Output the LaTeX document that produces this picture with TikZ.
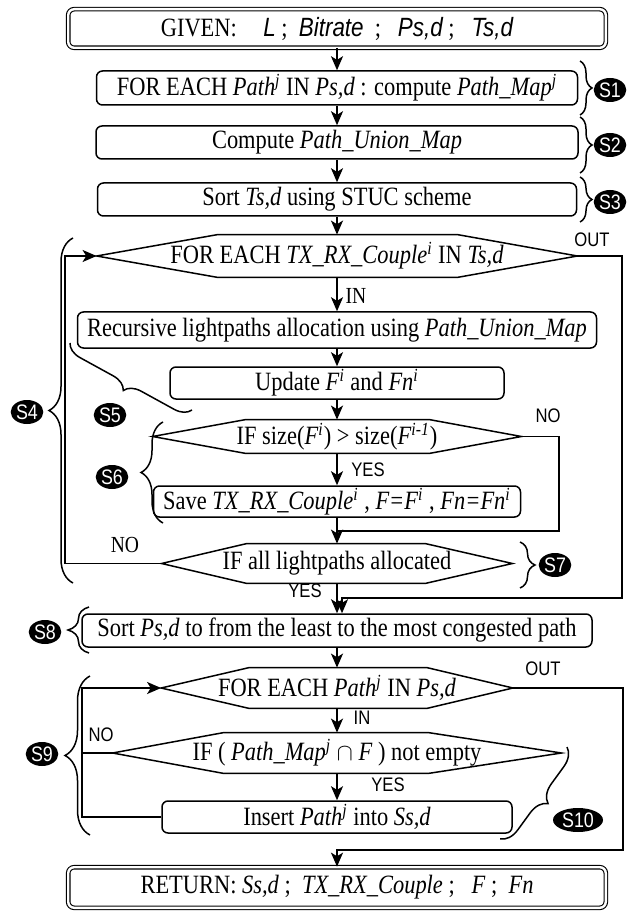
\documentclass[tikz,border=0pt]{standalone}
\usepackage{fontspec}
\setmainfont{Liberation Serif}[FakeStretch=0.85]
\setsansfont{Liberation Sans}[FakeStretch=0.85]
\usetikzlibrary{arrows.meta,shapes.geometric,decorations.pathreplacing}
\newcommand{\boxfont}{\fontsize{13.2}{15}\selectfont}
\newcommand{\vr}[1]{\textit{#1}}
\newcommand{\idx}[1]{\textsuperscript{\textit{#1}}}
% outline of a hexagon around a plain node: name, left and right chamfer
\newcommand{\hexout}[3]{\draw[hexline] (#1.west) -- ([xshift=#2]#1.north west) -- ([xshift=-#3]#1.north east) -- (#1.east) -- ([xshift=-#3]#1.south east) -- ([xshift=#2]#1.south west) -- cycle;}
\tikzset{
  flowbox/.style={draw,rounded corners=3pt,line width=0.75pt,inner sep=0pt,font=\boxfont},
  termbox/.style={flowbox,double,double distance=1.2pt,line width=0.55pt},
  hexnode/.style={inner sep=0pt,font=\boxfont},
  hexline/.style={line width=0.75pt},
  flow/.style={line width=0.9pt,-{Stealth[length=7pt,width=6pt,inset=1.8pt]}},
  link/.style={line width=0.9pt},
  bracer/.style={decorate,decoration={brace,amplitude=#1},line width=0.75pt},
  steplabel/.style={ellipse,fill=black,text=white,inner sep=0.3pt,minimum width=16pt,minimum height=12pt,font=\sffamily\fontsize{10.5}{11}\selectfont},
  sanslabel/.style={font=\sffamily\fontsize{9.8}{11}\selectfont,inner sep=0pt},
  seriflabel/.style={font=\fontsize{11.5}{13}\selectfont,inner sep=0pt}
}
\begin{document}
\begin{tikzpicture}[x=0.5pt,y=-0.5pt]
  \useasboundingbox (0,0) rectangle (641,914);
  % boxes
  \node[termbox,minimum width=268.8pt,minimum height=19.3pt] (given) at (337,28.5)
    {GIVEN:\quad{\sffamily\itshape L} ;\ \ {\sffamily\itshape Bitrate}\ \ ;\ \ \ {\sffamily\itshape Ps,d} ;\ \ \ {\sffamily\itshape Ts,d}};
  \node[flowbox,minimum width=240.5pt,minimum height=17pt] (pathmap) at (337,88)
    {FOR EACH \vr{Path}\idx{j} IN \vr{Ps,d} : compute \vr{Path\_Map}\idx{j}};
  \node[flowbox,minimum width=241pt,minimum height=16.5pt] (unionmap) at (337,142.5)
    {Compute \vr{Path\_Union\_Map}};
  \node[flowbox,minimum width=239.5pt,minimum height=16.5pt] (sortT) at (337,199.5)
    {Sort \vr{Ts,d} using STUC scheme};
  \node[hexnode,minimum width=240pt,minimum height=21pt] (forT) at (337,256)
    {FOR EACH \vr{TX\_RX\_Couple}\idx{i} IN \vr{Ts,d}};
  \node[flowbox,minimum width=259.5pt,minimum height=18pt] (alloc) at (337,330)
    {Recursive lightpaths allocation using \vr{Path\_Union\_Map}};
  \node[flowbox,minimum width=167pt,minimum height=16pt] (update) at (337,383)
    {Update \vr{F}\idx{i} and \vr{Fn}\idx{i}};
  \node[hexnode,minimum width=184pt,minimum height=16.5pt] (ifsize) at (337,436.5)
    {IF size(\vr{F}\idx{i}) > size(\vr{F}\idx{i-1})};
  \node[flowbox,minimum width=183.5pt,minimum height=15.5pt] (save) at (337,501.5)
    {Save \vr{TX\_RX\_Couple}\idx{i} , \vr{F=F}\idx{i} , \vr{Fn=Fn}\idx{i}};
  \node[hexnode,minimum width=175pt,minimum height=19.5pt] (ifall) at (337,563.5)
    {IF all lightpaths allocated};
  \node[flowbox,minimum width=255pt,minimum height=16.5pt] (sortP) at (337,630.5)
    {Sort \vr{Ps,d} to from the least to the most congested path};
  \node[hexnode,minimum width=175.5pt,minimum height=20pt] (forP) at (337,688)
    {FOR EACH \vr{Path}\idx{j} IN \vr{Ps,d}};
  \node[hexnode,minimum width=224pt,minimum height=20pt] (ifmap) at (337,753)
    {IF ( \vr{Path\_Map}\idx{j} $\cap$ \vr{F} ) not empty};
  \node[flowbox,minimum width=175pt,minimum height=16pt] (insert) at (337,817)
    {Insert \vr{Path}\idx{j} into \vr{Ss,d}};
  \node[termbox,minimum width=268.8pt,minimum height=20.3pt] (result) at (337,887.5)
    {RETURN: \vr{Ss,d} ;\ \ \vr{TX\_RX\_Couple} ;\ \ \ \vr{F} ;\ \ \vr{Fn}};
  \hexout{forT}{60.5pt}{60pt}
  \hexout{ifsize}{46.5pt}{46pt}
  \hexout{ifall}{42.5pt}{43.5pt}
  \hexout{forP}{44pt}{43pt}
  \hexout{ifmap}{55.5pt}{66.5pt}
  % turning points
  \coordinate (loopA) at (65,400);
  \coordinate (loopB) at (82,750);
  \coordinate (noturn) at (559,531);
  \coordinate (nojoin) at (337,531);
  \coordinate (outturnA) at (622,598);
  \coordinate (outjoinA) at (342,598);
  \coordinate (outturnB) at (623,850);
  \coordinate (outjoinB) at (337,850);
  % connectors
  \draw[flow] (given) -- (pathmap);
  \draw[flow] (pathmap) -- (unionmap);
  \draw[flow] (unionmap) -- (sortT);
  \draw[flow] (sortT) -- (forT.north);
  \draw[flow] (forT.south) -- (alloc);
  \draw[flow] (alloc) -- (update);
  \draw[flow] (update) -- (ifsize.north);
  \draw[flow] (ifsize.south) -- (save);
  \draw[flow] (save) -- (ifall.north);
  \draw[link] (ifsize.east) -| (noturn) -- (nojoin);
  \draw[flow] (ifall.west) -- (ifall.west -| loopA) |- (forT.west);
  \draw[flow] (ifall.south) -- (sortP);
  \draw[flow] (forT.east) -| (outturnA) -- (outjoinA) -- (outjoinA |- sortP.north);
  \draw[flow] (sortP) -- (forP.north);
  \draw[flow] (forP.south) -- (ifmap.north);
  \draw[flow] (ifmap.south) -- (insert);
  \draw[link] (ifmap.west) -- (ifmap.west -| loopB);
  \draw[flow] (insert.west) -- (insert.west -| loopB) |- (forP.west);
  \draw[flow] (forP.east) -| (outturnB) -- (outjoinB) -- (result);
  % branch labels
  \node[sanslabel] (outA) at (592,240) {OUT};
  \node[seriflabel] (inA) at (356,296) {IN};
  \node[sanslabel] (noA) at (548,416) {NO};
  \node[sanslabel] (yesA) at (368,470) {YES};
  \node[seriflabel] (noB) at (125,545) {NO};
  \node[sanslabel] (yesB) at (305,591) {YES};
  \node[sanslabel] (outB) at (543,669) {OUT};
  \node[sanslabel] (inB) at (362,718) {IN};
  \node[sanslabel] (noC) at (101,735) {NO};
  \node[sanslabel] (yesC) at (388,785) {YES};
  % braces and step tags
  \draw[bracer=6pt] (580,61) -- (580,115);
  \draw[bracer=6pt] (580,117) -- (580,173);
  \draw[bracer=6pt] (580,177) -- (580,222);
  \draw[bracer=12pt] (73,583) -- (73,238);
  \draw[bracer=8pt] (192,410) -- (70,343);
  \draw[bracer=11pt] (163,523) -- (163,422);
  \draw[bracer=7.5pt] (520,542) -- (520,588);
  \draw[bracer=10.5pt] (89,653) -- (89,607);
  \draw[bracer=12.5pt] (90,835) -- (90,676);
  \draw[bracer=9pt] (567,747) -- (500,839);
  \node[steplabel] (tagA) at (610,90) {S1};
  \node[steplabel] (tagB) at (610,145) {S2};
  \node[steplabel] (tagC) at (610,202) {S3};
  \node[steplabel] (tagD) at (27,412) {S4};
  \node[steplabel] (tagE) at (110,415) {S5};
  \node[steplabel] (tagF) at (112,477) {S6};
  \node[steplabel] (tagG) at (555,565) {S7};
  \node[steplabel] (tagH) at (45,632) {S8};
  \node[steplabel] (tagI) at (42,754) {S9};
  \node[steplabel,minimum width=25pt] (tagJ) at (578,820) {S10};
\end{tikzpicture}
\end{document}
